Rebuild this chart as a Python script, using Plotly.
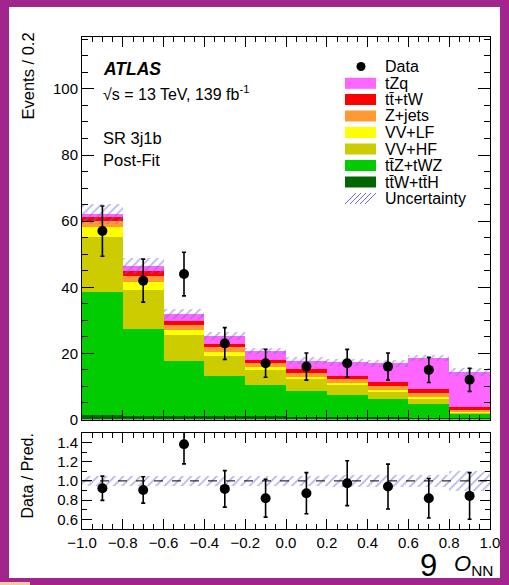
import plotly.graph_objects as go

W, H = 509, 585

# ---------------- data ----------------
bin_centers = [-0.9, -0.7, -0.5, -0.3, -0.1, 0.1, 0.3, 0.5, 0.7, 0.9]
bin_width = 0.2

ttW_ttH = [1.3, 1.2, 1.2, 1.1, 1.0, 0.9, 0.8, 0.7, 0.6, 0.4]
ttZ_tWZ = [37.4, 26.1, 16.6, 12.2, 9.5, 7.7, 6.7, 5.5, 4.1, 1.3]
VV_HF = [16.4, 11.8, 7.8, 6.0, 4.5, 3.6, 3.0, 2.2, 1.7, 0.4]
VV_LF = [3.1, 2.4, 1.5, 1.2, 0.8, 0.8, 0.5, 0.5, 0.5, 0.3]
Z_jets = [1.8, 1.9, 1.5, 1.4, 1.2, 1.2, 1.3, 1.3, 1.2, 0.7]
tt_tW = [1.4, 1.5, 1.2, 1.0, 1.0, 1.1, 1.0, 1.1, 1.0, 0.6]
tZq = [0.7, 1.6, 2.1, 2.3, 2.7, 2.5, 4.0, 5.7, 9.6, 10.8]
unc_abs = [3.0, 2.4, 1.5, 1.3, 0.9, 1.0, 1.0, 1.0, 0.9, 1.2]

data = [57, 42, 44, 23, 17, 16, 17, 16, 15, 12]
data_err = [7.6, 6.5, 6.6, 4.8, 4.2, 4.1, 4.2, 4.1, 3.8, 3.5]

ratio = [0.924, 0.906, 1.381, 0.917, 0.82, 0.872, 0.976, 0.941, 0.82, 0.844]
ratio_err = [0.126, 0.137, 0.204, 0.19, 0.197, 0.214, 0.233, 0.233, 0.205, 0.242]
ratio_unc = [0.05, 0.05, 0.05, 0.05, 0.05, 0.055, 0.06, 0.06, 0.065, 0.10]

x_ticks = [-1.0, -0.8, -0.6, -0.4, -0.2, 0.0, 0.2, 0.4, 0.6, 0.8, 1.0]

# stack order bottom -> top
samples = [
    ("tt̄W+tt̄H", ttW_ttH, "#006600"),
    ("tt̄Z+tWZ", ttZ_tWZ, "#00CC00"),
    ("VV+HF", VV_HF, "#CCCC00"),
    ("VV+LF", VV_LF, "#FFFF00"),
    ("Z+jets", Z_jets, "#FF9933"),
    ("tt̄+tW", tt_tW, "#FF0000"),
    ("tZq", tZq, "#FF66FF"),
]
HATCH = "#6C6CE2"
FONT = "Liberation Sans, Arial, Helvetica, sans-serif"


def px(x):
    return x / W


def py(y):
    return 1 - y / H


fig = go.Figure()

base = [0.0] * len(bin_centers)
for name, vals, col in samples:
    fig.add_trace(go.Bar(
        x=bin_centers, y=vals, base=list(base), width=bin_width,
        marker=dict(color=col, line=dict(width=0)),
        name=name, showlegend=False, xaxis="x", yaxis="y"))
    base = [b + v for b, v in zip(base, vals)]
total = base

fig.add_trace(go.Bar(
    x=bin_centers, y=[2 * u for u in unc_abs],
    base=[t - u for t, u in zip(total, unc_abs)], width=bin_width,
    marker=dict(color="rgba(0,0,0,0)", line=dict(width=0),
                pattern=dict(shape="/", fgcolor=HATCH, size=6, solidity=0.3)),
    showlegend=False, xaxis="x", yaxis="y"))

fig.add_trace(go.Scatter(
    x=bin_centers, y=data, mode="markers",
    marker=dict(color="black", size=10),
    error_y=dict(type="data", array=data_err, color="black", thickness=1.6, width=2),
    showlegend=False, xaxis="x", yaxis="y"))

fig.add_trace(go.Bar(
    x=bin_centers, y=[2 * u for u in ratio_unc],
    base=[1 - u for u in ratio_unc], width=bin_width,
    marker=dict(color="rgba(0,0,0,0)", line=dict(width=0),
                pattern=dict(shape="/", fgcolor=HATCH, size=6, solidity=0.3)),
    showlegend=False, xaxis="x2", yaxis="y2"))

fig.add_trace(go.Scatter(
    x=bin_centers, y=ratio, mode="markers",
    marker=dict(color="black", size=10),
    error_y=dict(type="data", array=ratio_err, color="black", thickness=1.6, width=2),
    showlegend=False, xaxis="x2", yaxis="y2"))

axis_common = dict(showline=True, linecolor="black", linewidth=1, mirror="allticks",
                   showgrid=False, zeroline=False, ticks="inside", tickcolor="black",
                   automargin=False,
                   tickfont=dict(family=FONT, size=15, color="black"))

xdom = [px(82), px(490)]
fig.update_layout(
    width=W, height=H, margin=dict(l=0, r=0, t=0, b=0, autoexpand=False),
    paper_bgcolor="white", plot_bgcolor="white", barmode="overlay", bargap=0,
    font=dict(family=FONT, color="black"), showlegend=False,
    xaxis=dict(domain=xdom, anchor="y", range=[-1, 1], tickvals=x_ticks,
               showticklabels=False, ticklen=10,
               minor=dict(dtick=0.05, tick0=-1, ticks="inside", ticklen=5, tickcolor="black"),
               **axis_common),
    yaxis=dict(domain=[py(419.5), py(37)], anchor="x", range=[0, 115.7],
               tick0=0, dtick=20, ticklen=12,
               minor=dict(dtick=5, tick0=0, ticks="inside", ticklen=6, tickcolor="black"),
               **axis_common),
    xaxis2=dict(domain=xdom, anchor="y2", range=[-1, 1], tickvals=x_ticks,
                tickformat=".1f", ticklen=10,
                minor=dict(dtick=0.05, tick0=-1, ticks="inside", ticklen=5, tickcolor="black"),
                **axis_common),
    yaxis2=dict(domain=[py(529), py(432.8)], anchor="x2", range=[0.5, 1.5],
                tick0=0, dtick=0.2, tickformat=".1f", ticklen=10,
                minor=dict(dtick=0.1, tick0=0, ticks="inside", ticklen=5, tickcolor="black"),
                **axis_common),
)

shapes = []
shapes.append(dict(type="line", xref="x2", yref="y2", x0=-1, x1=1, y0=1, y1=1,
                   line=dict(color="black", width=1, dash="dash")))

# manual legend
leg_rows = [66.5, 83.3, 99.5, 116, 132.5, 149, 165.5, 182, 198.5]
leg_labels = ["Data"] + [s[0] for s in reversed(samples)] + ["Uncertainty"]
bx0, bx1, tx = 345, 376, 383
shapes.append(dict(type="circle", xref="paper", yref="paper",
                   x0=px(361 - 4.5), x1=px(361 + 4.5), y0=py(leg_rows[0] + 4.5), y1=py(leg_rows[0] - 4.5),
                   fillcolor="black", line=dict(width=0)))
for i, (name, vals, col) in enumerate(reversed(samples)):
    yc = leg_rows[i + 1]
    shapes.append(dict(type="rect", xref="paper", yref="paper",
                       x0=px(bx0), x1=px(bx1), y0=py(yc + 5.5), y1=py(yc - 5.5),
                       fillcolor=col, line=dict(width=0)))
yc = leg_rows[-1]
for k in range(5):
    xs = bx0 + 5 * k
    shapes.append(dict(type="line", xref="paper", yref="paper",
                       x0=px(xs), x1=px(xs + 11), y0=py(yc + 5.5), y1=py(yc - 5.5),
                       line=dict(color=HATCH, width=1)))

# slide frame
PURPLE = "#A2248D"
for (x0, x1, y0, y1) in [(0, 9, 0, 585), (500, 509, 0, 585), (0, 509, 0, 7), (0, 509, 578, 585)]:
    shapes.append(dict(type="rect", xref="paper", yref="paper",
                       x0=px(x0), x1=px(x1), y0=py(y1), y1=py(y0),
                       fillcolor=PURPLE, line=dict(width=0), layer="above"))
shapes.append(dict(type="rect", xref="paper", yref="paper",
                   x0=px(0), x1=px(30), y0=py(585), y1=py(582),
                   fillcolor="#F2C9A2", line=dict(width=0)))

annotations = []


def txt(x, y, s, size=16.5, xanchor="left", yanchor="middle", angle=0):
    annotations.append(dict(x=px(x), y=py(y), xref="paper", yref="paper", text=s,
                            showarrow=False, xanchor=xanchor, yanchor=yanchor,
                            textangle=angle, font=dict(family=FONT, size=size, color="black")))


for lab, yc in zip(leg_labels, leg_rows):
    txt(tx, yc, lab, size=16)

txt(101, 69, "<b><i>ATLAS</i></b>", size=17.5)
txt(101, 93, "√s = 13 TeV, 139 fb<sup>-1</sup>", size=16)
txt(101, 138, "SR 3j1b", size=16.5)
txt(101, 160, "Post-Fit", size=16.5)
txt(27, 31, "Events / 0.2", size=16.5, xanchor="center", yanchor="top", angle=-90)
txt(27, 432, "Data / Pred.", size=16, xanchor="center", yanchor="top", angle=-90)
txt(428, 565, "9", size=31, xanchor="center")
txt(452, 565, "<i>O</i><sub>NN</sub>", size=22)

fig.update_layout(shapes=shapes, annotations=annotations)
fig.write_html("out.html")
